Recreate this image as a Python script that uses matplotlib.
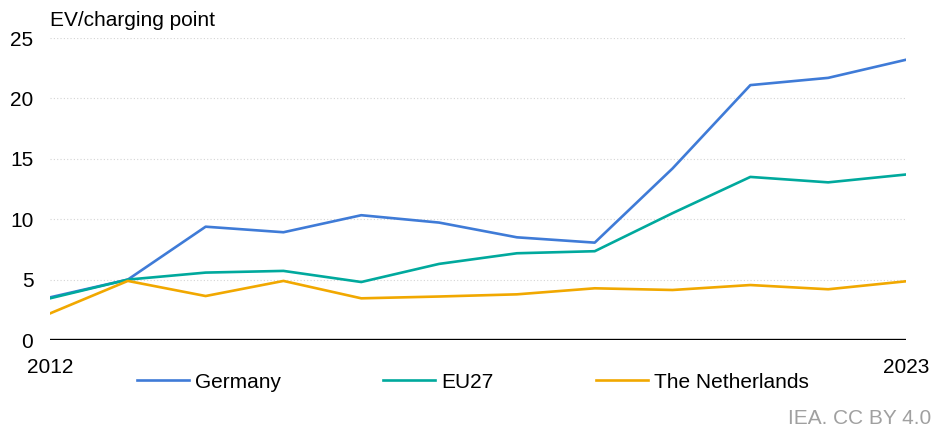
import numpy as np
import matplotlib.pyplot as plt

plt.rcParams['font.family'] = ['Liberation Sans', 'DejaVu Sans']

years = np.arange(2012, 2024)
germany = [3.53, 5.0, 9.38, 8.92, 10.33, 9.72, 8.5, 8.06, 14.2, 21.1, 21.7, 23.2]
eu27 = [3.45, 5.0, 5.58, 5.72, 4.8, 6.3, 7.18, 7.35, 10.5, 13.5, 13.05, 13.7]
netherlands = [2.2, 4.89, 3.64, 4.89, 3.45, 3.6, 3.78, 4.28, 4.14, 4.55, 4.2, 4.86]

colors = {'Germany': '#3f7bd7', 'EU27': '#00a99d', 'The Netherlands': '#f1a800'}

fig = plt.figure(figsize=(9.32, 4.28), dpi=100)
ax = fig.add_axes([50/932, 1-340/428, 856/932, 302/428])

ax.plot(years, germany, color=colors['Germany'], lw=1.9, label='Germany')
ax.plot(years, eu27, color=colors['EU27'], lw=1.9, label='EU27')
ax.plot(years, netherlands, color=colors['The Netherlands'], lw=1.9, label='The Netherlands')

ax.set_xlim(2012, 2023)
ax.set_ylim(0, 25)
ax.set_yticks([0, 5, 10, 15, 20, 25])
ax.set_xticks([2012, 2023])
for s in ax.spines.values():
    s.set_visible(False)
ax.axhline(0, color='black', lw=2.4, zorder=3)
ax.grid(axis='y', color='#d4d4d4', linestyle=(0, (1, 2)), lw=0.8)
ax.tick_params(length=0, labelsize=15, colors='black')
ax.tick_params(axis='y', pad=12)
ax.tick_params(axis='x', pad=13)
ax.set_axisbelow(True)

fig.text(50/932, 1-20/428, 'EV/charging point', fontsize=15, va='center', ha='left')

fig.legend(loc='center', bbox_to_anchor=(473/932, 1-382/428), ncol=3, frameon=False,
           fontsize=15, handlelength=2.5, columnspacing=4.9, handletextpad=0.3)

fig.text(931/932, 1-418/428, 'IEA. CC BY 4.0', fontsize=15, color='#a0a0a0', va='center', ha='right')

fig.savefig('out.png', dpi=100)
